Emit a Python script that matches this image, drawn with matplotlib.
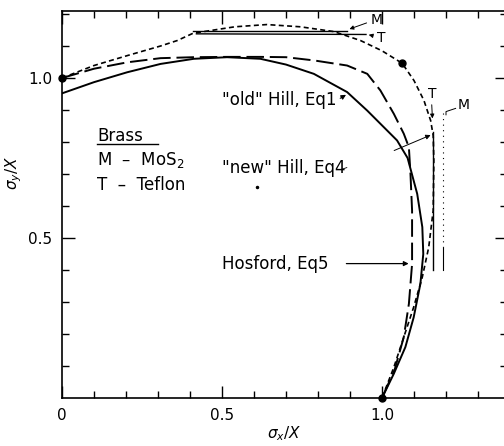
import numpy as np
import matplotlib
matplotlib.use("Agg")
from matplotlib import pyplot as plt

# "old" Hill, Eq1 (solid)
old_x = [0.0, 0.1, 0.204, 0.308, 0.412, 0.516, 0.62, 0.70, 0.787, 0.891, 0.954, 1.006, 1.047, 1.08,
         1.11, 1.126, 1.129, 1.12, 1.099, 1.073, 1.037, 1.0]
old_y = [0.952, 0.987, 1.018, 1.044, 1.06, 1.065, 1.06, 1.042, 1.013, 0.956, 0.898, 0.846, 0.805, 0.75,
         0.638, 0.534, 0.45, 0.357, 0.252, 0.159, 0.076, 0.0]

# Hosford, Eq5 (long dash)
hos_x = [0.0, 0.1, 0.204, 0.308, 0.412, 0.516, 0.62, 0.70, 0.787, 0.891, 0.954, 0.995, 1.037, 1.068,
         1.084, 1.089, 1.094, 1.094, 1.084, 1.068, 1.04, 1.0]
hos_y = [1.0, 1.029, 1.049, 1.062, 1.065, 1.066, 1.066, 1.065, 1.055, 1.039, 1.013, 0.961, 0.888, 0.826,
         0.784, 0.70, 0.586, 0.419, 0.294, 0.19, 0.09, 0.0]

# "new" Hill, Eq4 (short dash)
new_x = [0.0, 0.1, 0.204, 0.308, 0.36, 0.41, 0.54, 0.64, 0.745, 0.85, 0.933, 1.0, 1.063, 1.10, 1.131,
         1.152, 1.16, 1.162, 1.16, 1.146, 1.126, 1.099, 1.068, 1.037, 1.0]
new_y = [1.0, 1.039, 1.07, 1.10, 1.117, 1.14, 1.16, 1.167, 1.16, 1.145, 1.117, 1.085, 1.046, 0.992, 0.930,
         0.867, 0.82, 0.742, 0.586, 0.471, 0.378, 0.284, 0.19, 0.096, 0.0]

# experimental points
pts_x = [0.0, 1.063, 1.0]
pts_y = [1.0, 1.046, 0.0]

# experimental ranges (M = MoS2, T = Teflon)
m_top_x = [0.41, 0.89]
m_top_y = [1.148, 1.148]
t_top_x = [0.42, 0.95]
t_top_y = [1.138, 1.136]
t_side_x = [1.16, 1.16]
t_side_y = [0.83, 0.40]
m_side_x = [1.19, 1.19]
m_side_y = [0.89, 0.47, 0.40]

fig = plt.figure(figsize=(5.04, 4.46), dpi=100)
ax = fig.add_axes([62 / 504, 48 / 446, 1.39 * 320 / 504, 1.21 * 320 / 446])
ax.set_xlim(0, 1.39)
ax.set_ylim(0, 1.21)

ax.plot(old_x, old_y, color="black", lw=1.4, solid_joinstyle="round")
ax.plot(hos_x, hos_y, color="black", lw=1.4, linestyle=(0, (9, 3)), dash_joinstyle="round")
ax.plot(new_x, new_y, color="black", lw=1.2, linestyle=(0, (3, 2)), dash_joinstyle="round")
ax.plot(pts_x, pts_y, "o", color="black", ms=5, clip_on=False)
ax.plot([0.61], [0.66], ".", color="black", ms=3)

ax.plot(m_top_x, m_top_y, color="black", lw=1.0)
ax.plot(t_top_x, t_top_y, color="black", lw=1.0)
ax.plot(t_side_x, t_side_y, color="black", lw=1.0)
ax.plot(m_side_x, m_side_y[:2], color="black", lw=0.8, linestyle=(0, (1, 4)))
ax.plot(m_side_x, m_side_y[1:], color="black", lw=0.8)

fs = 12
ax.text(0.11, 0.82, "Brass", fontsize=fs, va="center")
ax.plot([0.11, 0.30], [0.795, 0.795], color="black", lw=1.0)
ax.text(0.11, 0.745, "M  \u2013  MoS$_2$", fontsize=fs, va="center")
ax.text(0.11, 0.665, "T  \u2013  Teflon", fontsize=fs, va="center")

ax.text(0.50, 0.93, "\"old\" Hill, Eq1", fontsize=fs, va="center")
ax.annotate("", xy=(0.895, 0.952), xytext=(0.862, 0.932),
            arrowprops=dict(arrowstyle="-|>", color="black", lw=0.8, mutation_scale=7))
ax.text(0.50, 0.72, "\"new\" Hill, Eq4", fontsize=fs, va="center")
ax.plot([0.875, 0.89], [0.715, 0.72], color="black", lw=0.6)
ax.annotate("", xy=(1.16, 0.825), xytext=(1.03, 0.77),
            arrowprops=dict(arrowstyle="-|>", color="black", lw=0.7, mutation_scale=7))
ax.text(0.50, 0.42, "Hosford, Eq5", fontsize=fs, va="center")
ax.annotate("", xy=(1.092, 0.42), xytext=(0.88, 0.42),
            arrowprops=dict(arrowstyle="-|>", color="black", lw=0.9, mutation_scale=7))

fs2 = 10
ax.text(0.965, 1.18, "M", fontsize=fs2, va="center")
ax.annotate("", xy=(0.89, 1.15), xytext=(0.96, 1.175),
            arrowprops=dict(arrowstyle="-|>", color="black", lw=0.7, mutation_scale=6))
ax.text(0.985, 1.125, "T", fontsize=fs2, va="center")
ax.annotate("", xy=(0.95, 1.137), xytext=(0.98, 1.13),
            arrowprops=dict(arrowstyle="-|>", color="black", lw=0.7, mutation_scale=6))
ax.text(1.145, 0.95, "T", fontsize=fs2, va="center")
ax.annotate("", xy=(1.158, 0.865), xytext=(1.155, 0.925),
            arrowprops=dict(arrowstyle="-|>", color="black", lw=0.7, mutation_scale=6))
ax.text(1.235, 0.915, "M", fontsize=fs2, va="center")
ax.plot([1.2, 1.2, 1.23], [0.885, 0.895, 0.905], color="black", lw=0.7)

ax.set_xticks([0, 0.5, 1.0])
ax.set_xticklabels(["0", "0.5", "1.0"])
ax.set_xticks(np.arange(0.1, 1.4, 0.1), minor=True)
ax.set_yticks([0.5, 1.0])
ax.set_yticklabels(["0.5", "1.0"])
ax.set_yticks(np.arange(0.1, 1.21, 0.1), minor=True)
ax.tick_params(which="both", direction="in", top=True, right=True, labelsize=11, width=1.0)
ax.tick_params(which="major", length=9, pad=7)
ax.tick_params(which="minor", length=5)
for s in ax.spines.values():
    s.set_linewidth(1.2)

ax.set_xlabel(r"$\sigma_x/X$", fontsize=11, labelpad=1)
ax.set_ylabel(r"$\sigma_y/X$", fontsize=11)
ax.yaxis.set_label_coords(-0.085, 0.58)

fig.savefig("out.png", dpi=100)
